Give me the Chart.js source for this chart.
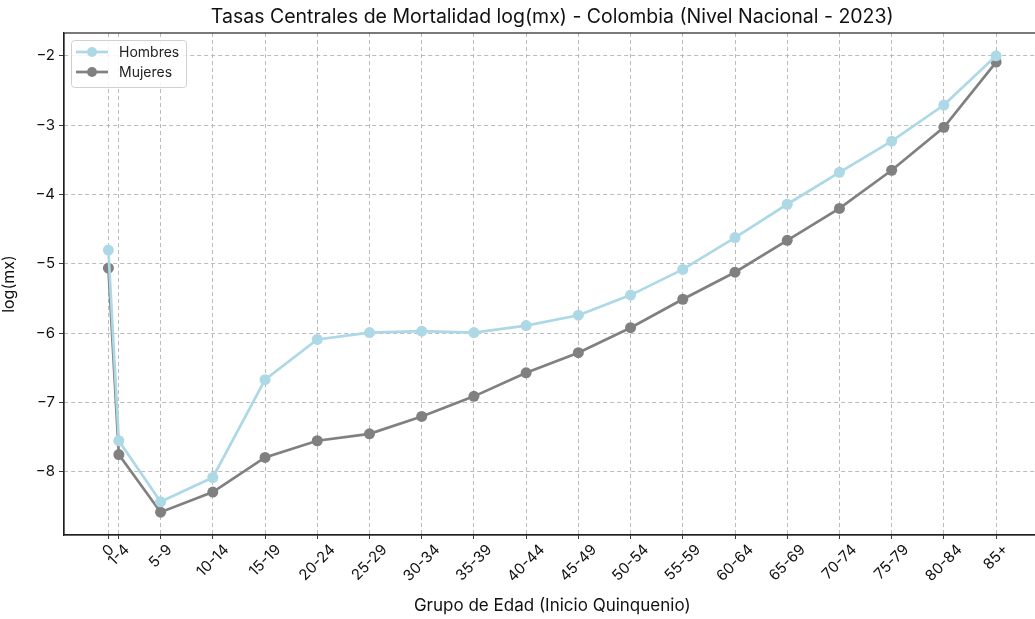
<!DOCTYPE html>
<html><head><meta charset="utf-8">
<script src="https://cdn.jsdelivr.net/npm/chart.js@4/dist/chart.umd.min.js"></script>
<style>html,body{margin:0;padding:0;background:#fff;overflow:hidden;width:1035px;height:619px}canvas{display:block}</style>
</head><body>
<canvas id="c" width="1046" height="619"></canvas>
<script>
const ages = [0,1,5,10,15,20,25,30,35,40,45,50,55,60,65,70,75,80,85];
const ageLabels = ['0','1-4','5-9','10-14','15-19','20-24','25-29','30-34','35-39','40-44','45-49','50-54','55-59','60-64','65-69','70-74','75-79','80-84','85+'];
const hombres = [-4.80,-7.55,-8.43,-8.08,-6.67,-6.09,-5.99,-5.97,-5.99,-5.89,-5.74,-5.45,-5.08,-4.62,-4.14,-3.68,-3.23,-2.71,-2.00];
const mujeres = [-5.06,-7.75,-8.58,-8.29,-7.79,-7.55,-7.45,-7.20,-6.91,-6.57,-6.28,-5.92,-5.51,-5.12,-4.66,-4.20,-3.65,-3.03,-2.09];
const yTicks = [-8,-7,-6,-5,-4,-3,-2];
const titleText = 'Tasas Centrales de Mortalidad log(mx) - Colombia (Nivel Nacional - 2023)';
const xTitleText = 'Grupo de Edad (Inicio Quinquenio)';

const FONT = 'Inter, "Open Sans", sans-serif';
const toPts = arr => ages.map((a,i)=>({x:a,y:arr[i]}));

const legendInside = {
  id:'legendInside',
  afterDatasetsDraw(chart){
    const {ctx, chartArea:a} = chart;
    const x0=a.left+7, y0=a.top+7, w=115, h=47;
    ctx.save();
    ctx.fillStyle='rgba(255,255,255,0.85)';
    ctx.strokeStyle='#d0d0d0'; ctx.lineWidth=1;
    ctx.beginPath(); ctx.roundRect(x0+0.5,y0+0.5,w,h,3); ctx.fill(); ctx.stroke();
    chart.data.datasets.forEach((ds,i)=>{
      const yy = y0+12+i*20;
      ctx.strokeStyle=ds.borderColor; ctx.lineWidth=2.7;
      ctx.beginPath(); ctx.moveTo(x0+5,yy); ctx.lineTo(x0+37,yy); ctx.stroke();
      ctx.fillStyle=ds.borderColor;
      ctx.beginPath(); ctx.arc(x0+21,yy,5,0,Math.PI*2); ctx.fill();
      ctx.fillStyle='#222'; ctx.font='14px '+FONT; ctx.textBaseline='middle'; ctx.textAlign='left';
      ctx.fillText(ds.label, x0+48, yy+1);
    });
    ctx.restore();
  }
};
const decor = {
  id:'decor',
  afterDraw(chart){
    const {ctx, chartArea:a, scales} = chart;
    ctx.save();
    ctx.strokeStyle='#222'; ctx.lineWidth=1.2;
    ctx.strokeRect(a.left,a.top,a.right-a.left,a.bottom-a.top);
    const cx = (a.left+a.right)/2;
    ctx.fillStyle='#111'; ctx.textAlign='center'; ctx.textBaseline='middle';
    ctx.font='19.5px '+FONT;
    ctx.fillText(titleText, cx, 17);
    ctx.font='15px '+FONT;
    const h = 15;
    ages.forEach((v,i)=>{
      const px = scales.x.getPixelForValue(v);
      const w = ctx.measureText(ageLabels[i]).width;
      const H = (w+h)*Math.SQRT1_2;
      ctx.save();
      ctx.translate(px, a.bottom+7+H/2);
      ctx.rotate(-Math.PI/4);
      ctx.fillText(ageLabels[i],0,0);
      ctx.restore();
    });
    ctx.font='17px '+FONT;
    ctx.fillText(xTitleText, cx, 606);
    ctx.restore();
  }
};

new Chart(document.getElementById('c'), {
  type:'line',
  data:{datasets:[
    {label:'Hombres', data:toPts(hombres), borderColor:'#ADD8E6', backgroundColor:'#ADD8E6', borderWidth:2.7, pointRadius:5.5, pointBorderWidth:0, pointHoverRadius:5.5, tension:0},
    {label:'Mujeres', data:toPts(mujeres), borderColor:'#808080', backgroundColor:'#808080', borderWidth:2.7, pointRadius:5.5, pointBorderWidth:0, pointHoverRadius:5.5, tension:0}
  ]},
  plugins:[legendInside, decor],
  options:{
    responsive:false, animation:false, devicePixelRatio:1,
    layout:{padding:{left:0,right:2,top:33,bottom:0}},
    plugins:{ legend:{display:false}, tooltip:{enabled:false}, title:{display:false} },
    scales:{
      x:{type:'linear', min:-4.25, max:89.25,
        afterBuildTicks(s){ s.ticks = ages.map(v=>({value:v})); },
        afterFit(s){ s.height = 84; s.paddingLeft=0; s.paddingRight=0; },
        ticks:{display:false, autoSkip:false},
        grid:{color:'#b4b4b4', lineWidth:0.9, tickColor:'#222', tickLength:4, tickBorderDash:[]},
        border:{display:true,color:'#222',width:1.2,dash:[4,3]}
      },
      y:{type:'linear', min:-8.909, max:-1.671,
        afterBuildTicks(s){ s.ticks = yTicks.map(v=>({value:v})); },
        afterFit(s){ s.width = 64; },
        ticks:{color:'#111', font:{family:FONT,size:15}, padding:4,
          callback:(v)=> v<0 ? '\u2212'+Math.abs(v) : String(v)},
        grid:{color:'#b4b4b4', lineWidth:0.9, tickColor:'#222', tickLength:5, tickBorderDash:[]},
        border:{display:true,color:'#222',width:1.2,dash:[4,3]},
        title:{display:true,text:'log(mx)',color:'#111',font:{family:FONT,size:16},padding:{top:0,bottom:2}}
      }
    }
  }
});
</script>
</body></html>
